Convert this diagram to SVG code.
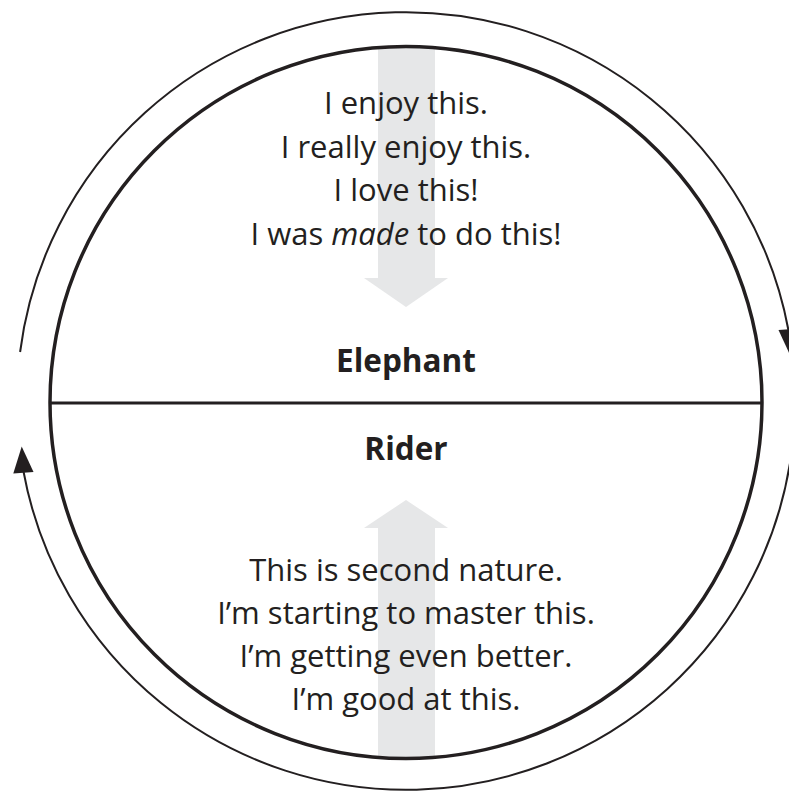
<svg xmlns="http://www.w3.org/2000/svg" width="789" height="795" viewBox="0 0 789 795">
<style>
.t{font-family:"Open Sans","Noto Sans",sans-serif;font-size:31px;fill:#231f20;text-anchor:middle}
.b{font-family:"Open Sans","Noto Sans",sans-serif;font-size:31.5px;font-weight:bold;fill:#231f20;text-anchor:middle}
.gray{fill:#e6e7e8}
.arc{fill:none;stroke:#231f20;stroke-width:2}
.head{fill:#231f20}
</style>
<rect width="789" height="795" fill="#fff"/>
<g id="elephant">
<polygon class="gray" points="378,48 435,48 435,278 448,278 406,307 364,278 378,278"/>
<text class="t" x="406" y="114">I enjoy this.</text>
<text class="t" x="406" y="158">I really enjoy this.</text>
<text class="t" x="406" y="201">I love this!</text>
<text class="t" x="406" y="245">I was <tspan font-style="italic">made</tspan> to do this!</text>
<text class="b" x="406" y="372">Elephant</text>
</g>
<g id="rider">
<polygon class="gray" points="406,500 448,528 435,528 435,758 378,758 378,528 364,528"/>
<text class="b" x="406" y="460">Rider</text>
<text class="t" x="406" y="581">This is second nature.</text>
<text class="t" x="406" y="624">I’m starting to master this.</text>
<text class="t" x="406" y="667">I’m getting even better.</text>
<text class="t" x="406" y="710">I’m good at this.</text>
</g>
<g id="circle">
<circle cx="406" cy="402.5" r="356" fill="none" stroke="#231f20" stroke-width="3.5"/>
<line x1="50" y1="403" x2="762" y2="403" stroke="#231f20" stroke-width="3"/>
</g>
<g id="connectors">
<path class="arc" d="M20.1 352 A389 389 0 0 1 788.6 331"/>
<polygon class="head" points="790.3,355.5 798.7,328.5 778.5,330"/>
<path class="arc" d="M791.9 450 A389 389 0 0 1 23.4 471"/>
<polygon class="head" points="21.7,446.5 33.5,472 13.3,473.5"/>
</g>
</svg>
